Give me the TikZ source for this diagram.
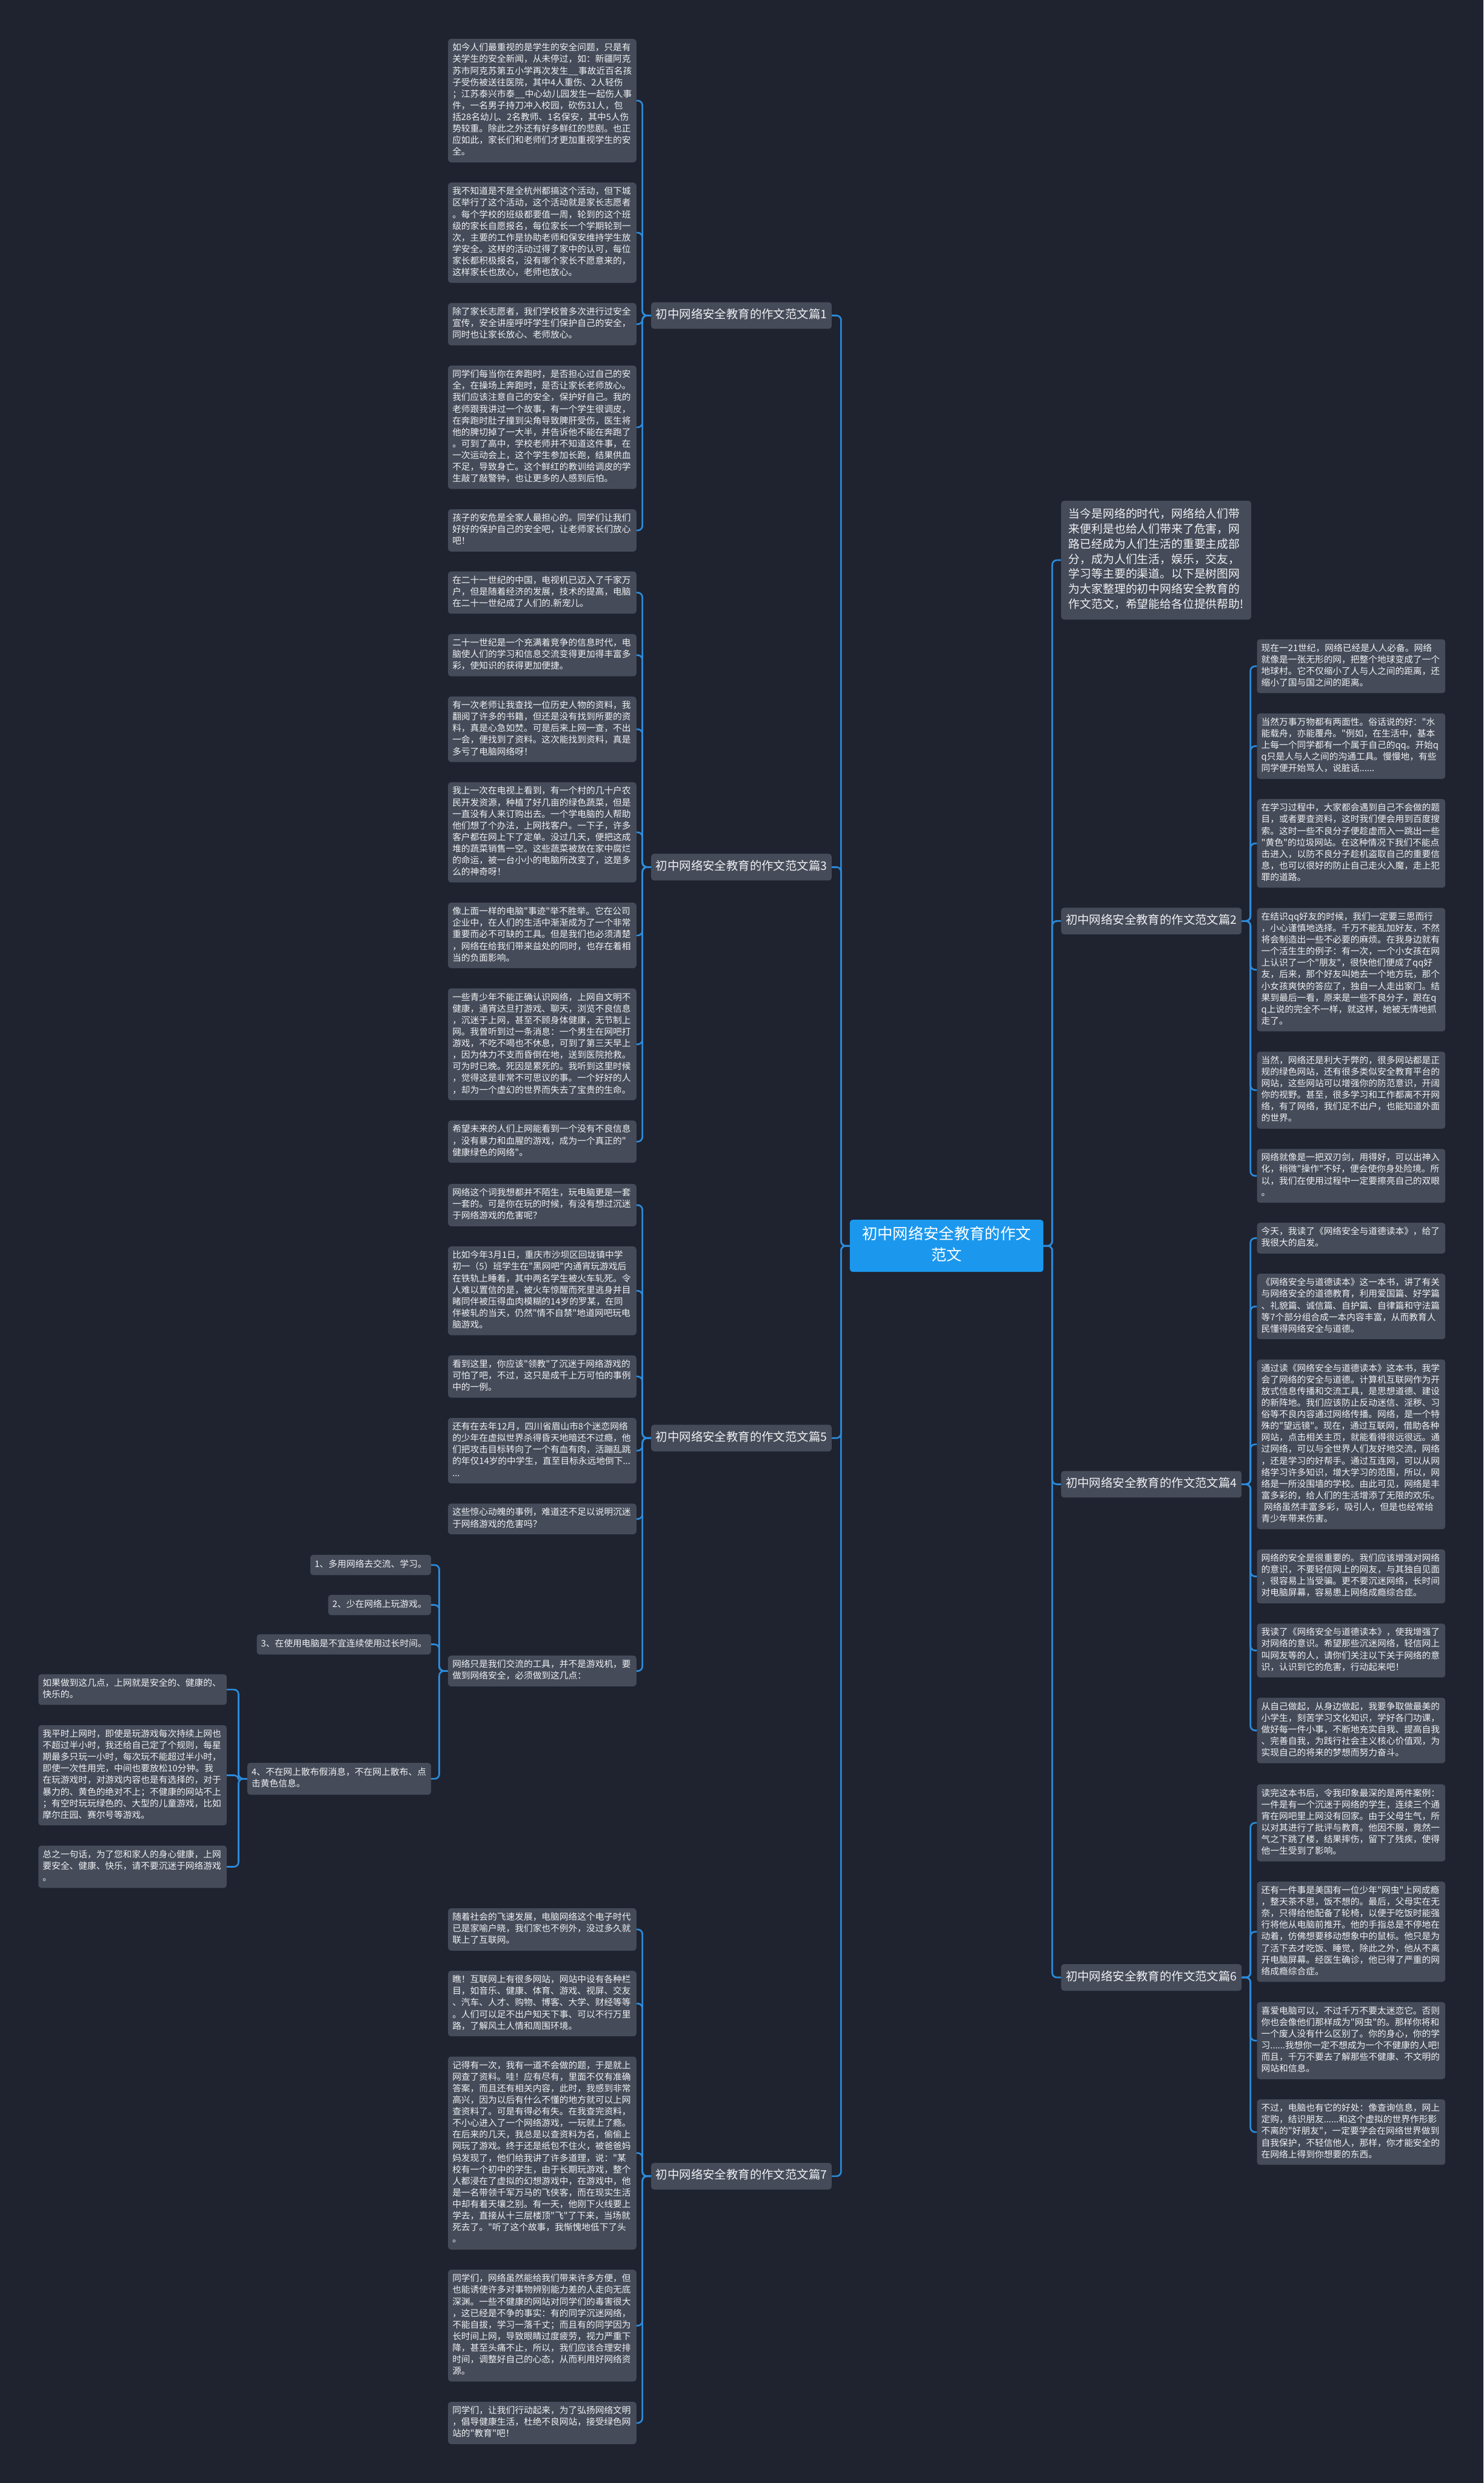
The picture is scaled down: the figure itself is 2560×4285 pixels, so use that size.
\documentclass[tikz,border=0pt]{standalone}
\usepackage{fontspec}
\newfontfamily\cjk{Noto Sans CJK SC}
\usepackage{xcolor}
\usepackage{tikz}
\usetikzlibrary{positioning, calc}
\definecolor{bgdark}{HTML}{1F2330}
\definecolor{boxgrey}{HTML}{454B59}
\definecolor{rootblue}{HTML}{1B98EE}
\definecolor{linkblue}{HTML}{2B8BDB}
\definecolor{paper}{HTML}{F0F1F3}

\begin{document}
\begin{tikzpicture}[
  x=1pt, y=-1pt,
  node distance=34.5pt,
  base/.style={rectangle, rounded corners=5pt, fill=boxgrey, text=paper, font=\cjk\fontsize{15.4}{20}\selectfont, align=left, inner xsep=7.5pt, execute at begin node=\strut, execute at end node=\strut},
  para/.style={base, text width=310pt, inner ysep=6.5pt},
  point/.style={base, inner ysep=7.5pt},
  branch/.style={base, font=\cjk\fontsize{20.3}{26}\selectfont, inner xsep=8pt, inner ysep=10pt},
  intro/.style={base, font=\cjk\fontsize{19.7}{26}\selectfont, text width=302pt, inner xsep=13pt, inner ysep=11.5pt},
  root/.style={rectangle, rounded corners=5pt, fill=rootblue, text=white, font=\cjk\fontsize{26.5}{36}\selectfont, align=center, text width=316pt, inner xsep=9pt, inner ysep=9pt, execute at begin node=\strut, execute at end node=\strut},
  link/.style={draw=linkblue, line width=2.8pt, rounded corners=8pt}
]
  \useasboundingbox (0,0) rectangle (2560,4285);
  \fill[bgdark] (0,0) rectangle (2560,4285);

  % left column
  \node[para, anchor=north west] (p1a) at (773,67) {如今人们最重视的是学生的安全问题，只是有\\关学生的安全新闻，从未停过，如：新疆阿克\\苏市阿克苏第五小学再次发生\_\_事故近百名孩\\子受伤被送往医院，其中4人重伤、2人轻伤\\；江苏泰兴市泰\_\_中心幼儿园发生一起伤人事\\件，一名男子持刀冲入校园，砍伤31人，包\\括28名幼儿、2名教师、1名保安，其中5人伤\\势较重。除此之外还有好多鲜红的悲剧。也正\\应如此，家长们和老师们才更加重视学生的安\\全。};
  \node[para, below=of p1a] (p1b) {我不知道是不是全杭州都搞这个活动，但下城\\区举行了这个活动，这个活动就是家长志愿者\\。每个学校的班级都要值一周，轮到的这个班\\级的家长自愿报名，每位家长一个学期轮到一\\次，主要的工作是协助老师和保安维持学生放\\学安全。这样的活动过得了家中的认可，每位\\家长都积极报名，没有哪个家长不愿意来的，\\这样家长也放心，老师也放心。};
  \node[para, below=of p1b] (p1c) {除了家长志愿者，我们学校曾多次进行过安全\\宣传，安全讲座呼吁学生们保护自己的安全，\\同时也让家长放心、老师放心。};
  \node[para, below=of p1c] (p1d) {同学们每当你在奔跑时，是否担心过自己的安\\全，在操场上奔跑时，是否让家长老师放心。\\我们应该注意自己的安全，保护好自己。我的\\老师跟我讲过一个故事，有一个学生很调皮，\\在奔跑时肚子撞到尖角导致脾肝受伤，医生将\\他的脾切掉了一大半，并告诉他不能在奔跑了\\。可到了高中，学校老师并不知道这件事，在\\一次运动会上，这个学生参加长跑，结果供血\\不足，导致身亡。这个鲜红的教训给调皮的学\\生敲了敲警钟，也让更多的人感到后怕。};
  \node[para, below=of p1d] (p1e) {孩子的安危是全家人最担心的。同学们让我们\\好好的保护自己的安全吧，让老师家长们放心\\吧！};

  \node[para, anchor=north west] (p3a) at (773,986) {在二十一世纪的中国，电视机已迈入了千家万\\户，但是随着经济的发展，技术的提高，电脑\\在二十一世纪成了人们的.新宠儿。};
  \node[para, below=of p3a] (p3b) {二十一世纪是一个充满着竞争的信息时代，电\\脑使人们的学习和信息交流变得更加得丰富多\\彩，使知识的获得更加便捷。};
  \node[para, below=of p3b] (p3c) {有一次老师让我查找一位历史人物的资料，我\\翻阅了许多的书籍，但还是没有找到所要的资\\料，真是心急如焚。可是后来上网一查，不出\\一会，便找到了资料。这次能找到资料，真是\\多亏了电脑网络呀！};
  \node[para, below=of p3c] (p3d) {我上一次在电视上看到，有一个村的几十户农\\民开发资源，种植了好几亩的绿色蔬菜，但是\\一直没有人来订购出去。一个学电脑的人帮助\\他们想了个办法，上网找客户。一下子，许多\\客户都在网上下了定单。没过几天，便把这成\\堆的蔬菜销售一空。这些蔬菜被放在家中腐烂\\的命运，被一台小小的电脑所改变了，这是多\\么的神奇呀！};
  \node[para, below=of p3d] (p3e) {像上面一样的电脑"事迹"举不胜举。它在公司\\企业中，在人们的生活中渐渐成为了一个非常\\重要而必不可缺的工具。但是我们也必须清楚\\，网络在给我们带来益处的同时，也存在着相\\当的负面影响。};
  \node[para, below=of p3e] (p3f) {一些青少年不能正确认识网络，上网自文明不\\健康，通宵达旦打游戏、聊天，浏览不良信息\\，沉迷于上网，甚至不顾身体健康，无节制上\\网。我曾听到过一条消息：一个男生在网吧打\\游戏，不吃不喝也不休息，可到了第三天早上\\，因为体力不支而昏倒在地，送到医院抢救。\\可为时已晚。死因是累死的。我听到这里时候\\，觉得这是非常不可思议的事。一个好好的人\\，却为一个虚幻的世界而失去了宝贵的生命。};
  \node[para, below=of p3f] (p3g) {希望未来的人们上网能看到一个没有不良信息\\，没有暴力和血腥的游戏，成为一个真正的"\\健康绿色的网络"。};

  \node[para, anchor=north west] (p5a) at (773,2043) {网络这个词我想都并不陌生，玩电脑更是一套\\一套的。可是你在玩的时候，有没有想过沉迷\\于网络游戏的危害呢？};
  \node[para, below=of p5a] (p5b) {比如今年3月1日，重庆市沙坝区回垅镇中学\\初一（5）班学生在"黑网吧"内通宵玩游戏后\\在铁轨上睡着，其中两名学生被火车轧死。令\\人难以置信的是，被火车惊醒而死里逃身并目\\睹同伴被压得血肉模糊的14岁的罗某，在同\\伴被轧的当天，仍然"情不自禁"地道网吧玩电\\脑游戏。};
  \node[para, below=of p5b] (p5c) {看到这里，你应该"领教"了沉迷于网络游戏的\\可怕了吧，不过，这只是成千上万可怕的事例\\中的一例。};
  \node[para, below=of p5c] (p5d) {还有在去年12月，四川省眉山市8个迷恋网络\\的少年在虚拟世界杀得昏天地暗还不过瘾，他\\们把攻击目标转向了一个有血有肉，活蹦乱跳\\的年仅14岁的中学生，直至目标永远地倒下...\\...};
  \node[para, below=of p5d] (p5e) {这些惊心动魄的事例，难道还不足以说明沉迷\\于网络游戏的危害吗？};
  \node[para, anchor=north west] (p5f) at (773,2857) {网络只是我们交流的工具，并不是游戏机，要\\做到网络安全，必须做到这几点：};

  \node[point, anchor=north east] (i1) at (744,2683) {1、多用网络去交流、学习。};
  \node[point, anchor=north east] (i2) at (744,2752) {2、少在网络上玩游戏。};
  \node[point, anchor=north east] (i3) at (744,2820) {3、在使用电脑是不宜连续使用过长时间。};
  \node[point, text width=302pt, anchor=north east] (i4) at (744,3042) {4、不在网上散布假消息，不在网上散布、点\\击黄色信息。};

  \node[para, anchor=north west] (f1) at (66,2889) {如果做到这几点，上网就是安全的、健康的、\\快乐的。};
  \node[para, below=of f1] (f2) {我平时上网时，即使是玩游戏每次持续上网也\\不超过半小时，我还给自己定了个规则，每星\\期最多只玩一小时，每次玩不能超过半小时，\\即使一次性用完，中间也要放松10分钟。我\\在玩游戏时，对游戏内容也是有选择的，对于\\暴力的、黄色的绝对不上；不健康的网站不上\\；有空时玩玩绿色的、大型的儿童游戏，比如\\摩尔庄园、赛尔号等游戏。};
  \node[para, below=of f2] (f3) {总之一句话，为了您和家人的身心健康，上网\\要安全、健康、快乐，请不要沉迷于网络游戏\\。};

  \node[para, anchor=north west] (p7a) at (773,3293) {随着社会的飞速发展，电脑网络这个电子时代\\已是家喻户晓，我们家也不例外，没过多久就\\联上了互联网。};
  \node[para, below=of p7a] (p7b) {瞧！互联网上有很多网站，网站中设有各种栏\\目，如音乐、健康、体育、游戏、视屏、交友\\、汽车、人才、购物、博客、大学、财经等等\\。人们可以足不出户知天下事、可以不行万里\\路，了解风土人情和周围环境。};
  \node[para, below=of p7b] (p7c) {记得有一次，我有一道不会做的题，于是就上\\网查了资料。哇！应有尽有，里面不仅有准确\\答案，而且还有相关内容，此时，我感到非常\\高兴，因为以后有什么不懂的地方就可以上网\\查资料了。可是有得必有失。在我查完资料，\\不小心进入了一个网络游戏，一玩就上了瘾。\\在后来的几天，我总是以查资料为名，偷偷上\\网玩了游戏。终于还是纸包不住火，被爸爸妈\\妈发现了，他们给我讲了许多道理，说："某\\校有一个初中的学生，由于长期玩游戏，整个\\人都浸在了虚拟的幻想游戏中，在游戏中，他\\是一名带领千军万马的飞侠客，而在现实生活\\中却有着天壤之别。有一天，他刚下火线要上\\学去，直接从十三层楼顶"飞"了下来，当场就\\死去了。"听了这个故事，我惭愧地低下了头\\。};
  \node[para, below=of p7c] (p7d) {同学们，网络虽然能给我们带来许多方便，但\\也能诱使许多对事物辨别能力差的人走向无底\\深渊。一些不健康的网站对同学们的毒害很大\\，这已经是不争的事实：有的同学沉迷网络，\\不能自拔，学习一落千丈；而且有的同学因为\\长时间上网，导致眼睛过度疲劳，视力严重下\\降，甚至头痛不止，所以，我们应该合理安排\\时间，调整好自己的心态，从而利用好网络资\\源。};
  \node[para, below=of p7d] (p7e) {同学们，让我们行动起来，为了弘扬网络文明\\，倡导健康生活，杜绝不良网站，接受绿色网\\站的"教育"吧！};

  % right column
  \node[intro, anchor=north west] (intro) at (1831,864) {当今是网络的时代，网络给人们带\\来便利是也给人们带来了危害，网\\路已经成为人们生活的重要主成部\\分，成为人们生活，娱乐，交友，\\学习等主要的渠道。以下是树图网\\为大家整理的初中网络安全教育的\\作文范文，希望能给各位提供帮助!};

  \node[para, anchor=north west] (r2a) at (2169,1103) {现在一21世纪，网络已经是人人必备。网络\\就像是一张无形的网，把整个地球变成了一个\\地球村。它不仅缩小了人与人之间的距离，还\\缩小了国与国之间的距离。};
  \node[para, below=of r2a] (r2b) {当然万事万物都有两面性。俗话说的好："水\\能载舟，亦能覆舟。"例如，在生活中，基本\\上每一个同学都有一个属于自己的qq。开始q\\q只是人与人之间的沟通工具。慢慢地，有些\\同学便开始骂人，说脏话......};
  \node[para, below=of r2b] (r2c) {在学习过程中，大家都会遇到自己不会做的题\\目，或者要查资料，这时我们便会用到百度搜\\索。这时一些不良分子便趁虚而入一跳出一些\\"黄色"的垃圾网站。在这种情况下我们不能点\\击进入，以防不良分子趁机盗取自己的重要信\\息，也可以很好的防止自己走火入魔，走上犯\\罪的道路。};
  \node[para, below=of r2c] (r2d) {在结识qq好友的时候，我们一定要三思而行\\，小心谨慎地选择。千万不能乱加好友，不然\\将会制造出一些不必要的麻烦。在我身边就有\\一个活生生的例子：有一次，一个小女孩在网\\上认识了一个"朋友"，很快他们便成了qq好\\友，后来，那个好友叫她去一个地方玩，那个\\小女孩爽快的答应了，独自一人走出家门。结\\果到最后一看，原来是一些不良分子，跟在q\\q上说的完全不一样，就这样，她被无情地抓\\走了。};
  \node[para, below=of r2d] (r2e) {当然，网络还是利大于弊的，很多网站都是正\\规的绿色网站，还有很多类似安全教育平台的\\网站，这些网站可以增强你的防范意识，开阔\\你的视野。甚至，很多学习和工作都离不开网\\络，有了网络，我们足不出户，也能知道外面\\的世界。};
  \node[para, below=of r2e] (r2f) {网络就像是一把双刃剑，用得好，可以出神入\\化，稍微"操作"不好，便会使你身处险境。所\\以，我们在使用过程中一定要擦亮自己的双眼\\。};

  \node[para, anchor=north west] (r4a) at (2169,2110) {今天，我读了《网络安全与道德读本》，给了\\我很大的启发。};
  \node[para, below=of r4a] (r4b) {《网络安全与道德读本》这一本书，讲了有关\\与网络安全的道德教育，利用爱国篇、好学篇\\、礼貌篇、诚信篇、自护篇、自律篇和守法篇\\等7个部分组合成一本内容丰富，从而教育人\\民懂得网络安全与道德。};
  \node[para, below=of r4b] (r4c) {通过读《网络安全与道德读本》这本书，我学\\会了网络的安全与道德。计算机互联网作为开\\放式信息传播和交流工具，是思想道德、建设\\的新阵地。我们应该防止反动迷信、淫秽、习\\俗等不良内容通过网络传播。网络，是一个特\\殊的"望远镜"。现在，通过互联网，借助各种\\网站，点击相关主页，就能看得很远很远。通\\过网络，可以与全世界人们友好地交流，网络\\，还是学习的好帮手。通过互连网，可以从网\\络学习许多知识，增大学习的范围，所以，网\\络是一所没围墙的学校。由此可见，网络是丰\\富多彩的，给人们的生活增添了无限的欢乐。\\\hspace*{0.3em}网络虽然丰富多彩，吸引人，但是也经常给\\青少年带来伤害。};
  \node[para, below=of r4c] (r4d) {网络的安全是很重要的。我们应该增强对网络\\的意识，不要轻信网上的网友，与其独自见面\\，很容易上当受骗。更不要沉迷网络，长时间\\对电脑屏幕，容易患上网络成瘾综合症。};
  \node[para, below=of r4d] (r4e) {我读了《网络安全与道德读本》，使我增强了\\对网络的意识。希望那些沉迷网络，轻信网上\\叫网友等的人，请你们关注以下关于网络的意\\识，认识到它的危害，行动起来吧！};
  \node[para, below=of r4e] (r4f) {从自己做起，从身边做起，我要争取做最美的\\小学生，刻苦学习文化知识，学好各门功课，\\做好每一件小事，不断地充实自我、提高自我\\、完善自我，为践行社会主义核心价值观，为\\实现自己的将来的梦想而努力奋斗。};

  \node[para, anchor=north west] (r6a) at (2169,3079) {读完这本书后，令我印象最深的是两件案例：\\一件是有一个沉迷于网络的学生，连续三个通\\宵在网吧里上网没有回家。由于父母生气，所\\以对其进行了批评与教育。他因不服，竟然一\\气之下跳了楼，结果摔伤，留下了残疾，使得\\他一生受到了影响。};
  \node[para, below=of r6a] (r6b) {还有一件事是美国有一位少年"网虫"上网成瘾\\，整天茶不思，饭不想的。最后，父母实在无\\奈，只得给他配备了轮椅，以便于吃饭时能强\\行将他从电脑前推开。他的手指总是不停地在\\动着，仿佛想要移动想象中的鼠标。他只是为\\了活下去才吃饭、睡觉，除此之外，他从不离\\开电脑屏幕。经医生确诊，他已得了严重的网\\络成瘾综合症。};
  \node[para, below=of r6b] (r6c) {喜爱电脑可以，不过千万不要太迷恋它。否则\\你也会像他们那样成为"网虫"的。那样你将和\\一个废人没有什么区别了。你的身心，你的学\\习......我想你一定不想成为一个不健康的人吧!\\而且，千万不要去了解那些不健康、不文明的\\网站和信息。};
  \node[para, below=of r6c] (r6d) {不过，电脑也有它的好处：像查询信息，网上\\定购，结识朋友......和这个虚拟的世界作形影\\不离的"好朋友"，一定要学会在网络世界做到\\自我保护，不轻信他人，那样，你才能安全的\\在网络上得到你想要的东西。};

  % branches and root
  \node[branch, anchor=east] (b1) at ($(p1a.east)!.5!(p1e.east)+(337,0)$) {初中网络安全教育的作文范文篇1};
  \node[branch, anchor=east] (b3) at ($(p3a.east)!.5!(p3g.east)+(337,0)$) {初中网络安全教育的作文范文篇3};
  \node[branch, anchor=east] (b5) at ($(p5a.east)!.5!(p5f.east)+(337,0)$) {初中网络安全教育的作文范文篇5};
  \node[branch, anchor=east] (b7) at ($(p7a.east)!.5!(p7e.east)+(337,0)$) {初中网络安全教育的作文范文篇7};
  \node[branch, anchor=west] (b2) at ($(r2a.west)!.5!(r2f.west)-(338,0)$) {初中网络安全教育的作文范文篇2};
  \node[branch, anchor=west] (b4) at ($(r4a.west)!.5!(r4f.west)-(338,0)$) {初中网络安全教育的作文范文篇4};
  \node[branch, anchor=west] (b6) at ($(r6a.west)!.5!(r6d.west)-(338,0)$) {初中网络安全教育的作文范文篇6};
  \node[root, anchor=west] (root) at ($(b1.east)!.5!(b7.east)+(31,0)$) {初中网络安全教育的作文\\范文};

  % connectors
  \foreach \k in {b1,b3,b5,b7} \draw[link] (root.west) -- ++(-15,0) |- (\k.east);
  \foreach \k in {intro,b2,b4,b6} \draw[link] (root.east) -- ++(15,0) |- (\k.west);
  \foreach \k in {p1a,p1b,p1c,p1d,p1e} \draw[link] (b1.west) -- ++(-15,0) |- (\k.east);
  \foreach \k in {p3a,p3b,p3c,p3d,p3e,p3f,p3g} \draw[link] (b3.west) -- ++(-15,0) |- (\k.east);
  \foreach \k in {p5a,p5b,p5c,p5d,p5e,p5f} \draw[link] (b5.west) -- ++(-15,0) |- (\k.east);
  \foreach \k in {p7a,p7b,p7c,p7d,p7e} \draw[link] (b7.west) -- ++(-15,0) |- (\k.east);
  \foreach \k in {i1,i2,i3,i4} \draw[link] (p5f.west) -- ++(-15,0) |- (\k.east);
  \foreach \k in {f1,f2,f3} \draw[link] (i4.west) -- ++(-15,0) |- (\k.east);
  \foreach \k in {r2a,r2b,r2c,r2d,r2e,r2f} \draw[link] (b2.east) -- ++(15,0) |- (\k.west);
  \foreach \k in {r4a,r4b,r4c,r4d,r4e,r4f} \draw[link] (b4.east) -- ++(15,0) |- (\k.west);
  \foreach \k in {r6a,r6b,r6c,r6d} \draw[link] (b6.east) -- ++(15,0) |- (\k.west);
\end{tikzpicture}
\end{document}
